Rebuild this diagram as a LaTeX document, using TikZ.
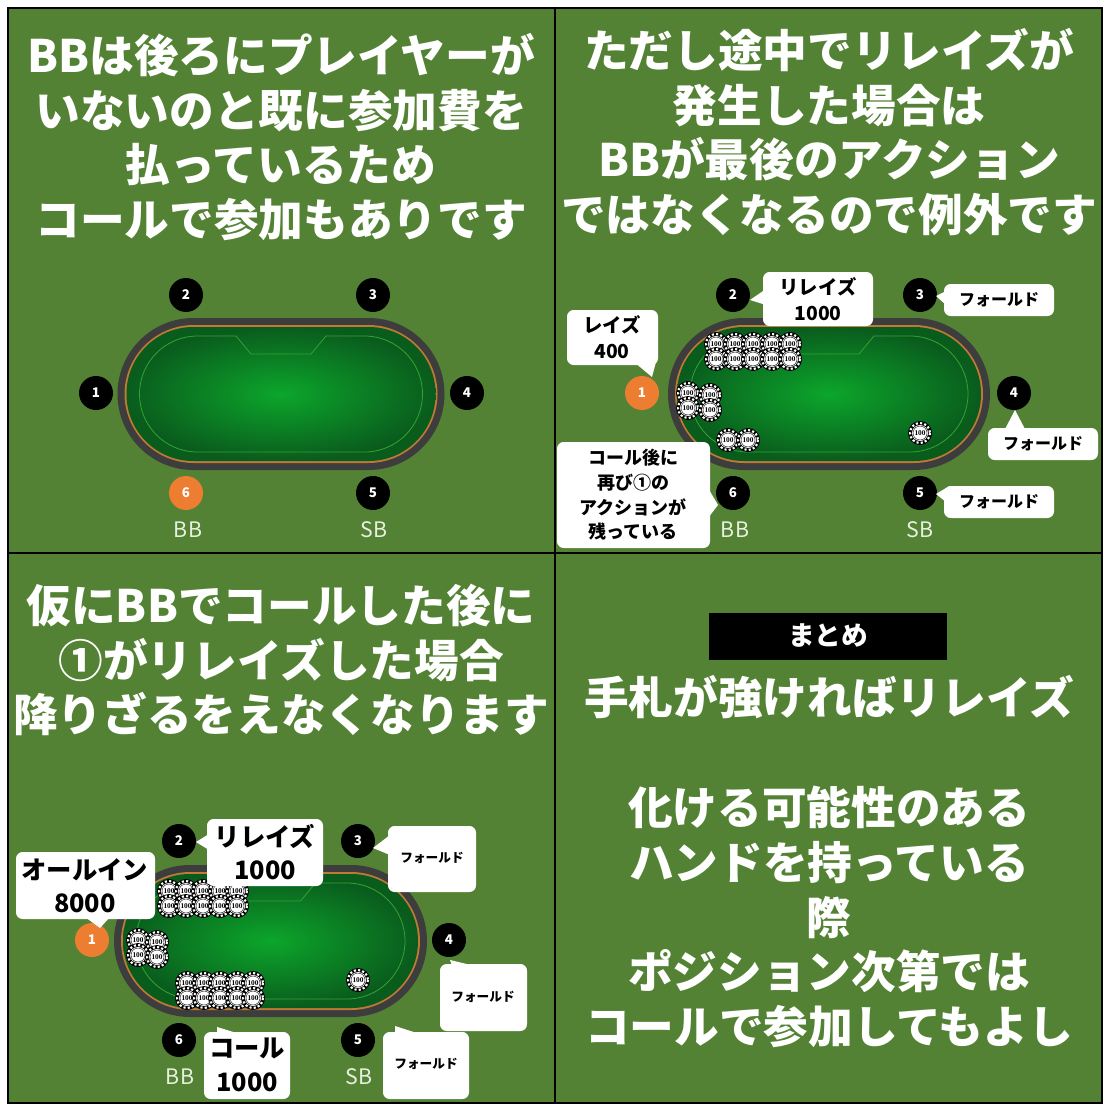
\documentclass[tikz,border=0pt]{standalone}
\usepackage{fontspec}
\setmainfont{Noto Sans CJK JP}
\newfontfamily\chipfont{Liberation Serif}
\definecolor{bg}{HTML}{548235}
\definecolor{rim}{HTML}{3D3D3D}
\definecolor{wood}{HTML}{C07A35}
\definecolor{feltin}{HTML}{0CA62B}
\definecolor{feltout}{HTML}{0A5C1D}
\definecolor{seatorange}{HTML}{ED7D31}
\definecolor{lbl}{HTML}{E8F0E0}
\newcommand\ptable[3]{%
\begin{scope}[shift={(#1,#2)}]
\fill[rim,rounded corners=57pt] (-#3,-76) rectangle (#3,76);
\fill[wood,rounded corners=52pt] (-#3+7,-69) rectangle (#3-7,69);
\shade[inner color=feltin,outer color=feltout,rounded corners=50pt] (-#3+9,-67) rectangle (#3-9,67);
\pgfmathsetmacro\tL{-#3+80}\pgfmathsetmacro\tR{#3-80}
\draw[green!55!black!80,line width=0.6pt] (\tL,-58) -- (-45,-58) -- (-30,-40) -- (30,-40) -- (45,-58) -- (\tR,-58)
  arc[start angle=-90,end angle=90,radius=58] -- (\tL,58) arc[start angle=90,end angle=270,radius=58] -- cycle;
\end{scope}}
\newcommand\chip[2]{%
\fill[black] (#1,#2) circle[radius=12];
\draw[white,line width=1.6pt,dash pattern=on 1.6pt off 1.6pt] (#1,#2) circle[radius=10];
\fill[white] (#1,#2) circle[radius=8];
\draw[black,line width=0.3pt] (#1,#2) circle[radius=7];
\node[font=\chipfont\bfseries\fontsize{5.5}{5.5}\selectfont,inner sep=0] at (#1,#2) {100};}
\tikzset{
 title/.style={text=white,font=\bfseries\fontsize{33.5}{41}\selectfont,align=center,inner sep=0},
 seatb/.style={circle,fill=black,text=white,minimum size=25.5pt,inner sep=0,font=\bfseries\fontsize{10}{10}\selectfont},
 seato/.style={seatb,fill=seatorange},
 poslbl/.style={text=lbl,font=\fontsize{16}{16}\selectfont,inner sep=0},
 bub/.style={fill=white,rounded corners=5pt},
 btxt/.style 2 args={align=center,inner sep=0,font=\bfseries\fontsize{#1}{#2}\selectfont},
}
\begin{document}
\begin{tikzpicture}[x=0.75pt,y=-0.75pt]
\useasboundingbox (0,0) rectangle (1106,1109);
\fill[white] (0,0) rectangle (1106,1109);
\fill[bg] (8,8) rectangle (1102,1103);
% ---------- panel 1 ----------
\node[title] (t1) at (281,137) {BBは後ろにプレイヤーが\\いないのと既に参加費を\\払っているため\\コールで参加もありです};
\ptable{281}{394}{163.5}
\node[seatb] (a2) at (186,295) {2};
\node[seatb] (a3) at (373,295) {3};
\node[seatb] (a1) at (96,393) {1};
\node[seatb] (a4) at (467,393) {4};
\node[seato] (a6) at (186,493) {6};
\node[seatb] (a5) at (373,493) {5};
\node[poslbl] (abb) at (188,530) {BB};
\node[poslbl] (asb) at (374,530) {SB};
% ---------- panel 2 ----------
\node[title] (t2) at (829,132) {ただし途中でリレイズが\\発生した場合は\\BBが最後のアクション\\ではなくなるので例外です};
\ptable{829}{394}{161}
\foreach \x in {716,735,753,772,790} {\chip{\x}{344}}
\foreach \x in {716,735,753,772,790} {\chip{\x}{359}}
\chip{688}{393}\chip{710}{395}\chip{688}{408}\chip{710}{410}
\chip{728}{440}\chip{748}{440}
\chip{920}{433}
\node[seatb] (b2) at (733,295) {2};
\node[seatb] (b3) at (920,295) {3};
\node[seato] (b1) at (642,393) {1};
\node[seatb] (b4) at (1014,393) {4};
\node[seatb] (b6) at (733,493) {6};
\node[seatb] (b5) at (920,493) {5};
\node[poslbl] (bbb) at (735,530) {BB};
\node[poslbl] (bsb) at (920,530) {SB};
% callouts
\fill[white] (766,289) -- (766,305) -- (750,300) -- cycle;
\fill[bub] (763,272) rectangle (873,326);
\node[btxt={14.5}{19.5}] (c1) at (818,299) {リレイズ\\1000};
\fill[white] (946,291) -- (946,305) -- (936,296) -- cycle;
\fill[bub] (944,284) rectangle (1054,316);
\node[btxt={12}{16}] (c2) at (999,300) {フォールド};
\fill[white] (634,362) -- (656,362) -- (652,377) -- cycle;
\fill[bub] (567,310) rectangle (658,365);
\node[btxt={14.5}{19.5}] (c3) at (612,337) {レイズ\\400};
\fill[white] (1004,431) -- (1026,431) -- (1015,410) -- cycle;
\fill[bub] (988,428) rectangle (1098,460);
\node[btxt={12}{16}] (c4) at (1043,444) {フォールド};
\fill[white] (946,488) -- (946,502) -- (936,494) -- cycle;
\fill[bub] (944,486) rectangle (1054,518);
\node[btxt={12}{16}] (c5) at (999,502) {フォールド};
\fill[white] (708,488) -- (708,518) -- (718,505) -- cycle;
\fill[bub] (557,442) rectangle (710,548);
\node[btxt={13.5}{18.5}] (c6) at (633,495) {コール後に\\再び①の\\アクションが\\残っている};
% ---------- panel 3 ----------
\node[title] (t3) at (281,660) {仮にBBでコールした後に\\①がリレイズした場合\\降りざるをえなくなります};
\ptable{270.5}{941}{156.5}
\foreach \x in {169,186,203,220,237} {\chip{\x}{891}}
\foreach \x in {169,186,203,220,237} {\chip{\x}{906}}
\chip{138}{940}\chip{157}{942}\chip{138}{955}\chip{157}{957}
\foreach \x in {187,204,220,237,253} {\chip{\x}{983}}
\foreach \x in {187,204,220,237,253} {\chip{\x}{998}}
\chip{358}{980}
\node[seatb] (d2) at (179,841) {2};
\node[seatb] (d3) at (358,841) {3};
\node[seato] (d1) at (92,940) {1};
\node[seatb] (d4) at (449,940) {4};
\node[seatb] (d6) at (179,1040) {6};
\node[seatb] (d5) at (358,1040) {5};
\node[poslbl] (dbb) at (180,1077) {BB};
\node[poslbl] (dsb) at (359,1077) {SB};
\fill[white] (209,834) -- (209,850) -- (196,842) -- cycle;
\fill[bub] (207,819) rectangle (323,886);
\node[btxt={19}{25}] (e1) at (265,852) {リレイズ\\1000};
\fill[white] (390,835) -- (390,855) -- (373,848) -- cycle;
\fill[bub] (388,826) rectangle (476,892);
\node[btxt={9.5}{13}] (e2) at (432,858) {フォールド};
\fill[white] (85,917) -- (110,917) -- (100,928) -- cycle;
\fill[bub] (16,852) rectangle (155,919);
\node[btxt={19}{25}] (e3) at (85,886) {オールイン\\8000};
\fill[white] (452,966) -- (475,966) -- (450,960) -- cycle;
\fill[bub] (440,964) rectangle (527,1031);
\node[btxt={9.5}{13}] (e4) at (483,997) {フォールド};
\fill[white] (395,1034) -- (420,1034) -- (395,1026) -- cycle;
\fill[bub] (383,1032) rectangle (469,1099);
\node[btxt={9.5}{13}] (e5) at (426,1064) {フォールド};
\fill[white] (217,1034) -- (240,1034) -- (217,1027) -- cycle;
\fill[bub] (204,1032) rectangle (290,1099);
\node[btxt={19}{25}] (e6) at (247,1065) {コール\\1000};
% ---------- panel 4 ----------
\fill[black] (709,613) rectangle (947,660);
\node[text=white,font=\bfseries\fontsize{20}{20}\selectfont] (m0) at (828,636) {まとめ};
\node[title] (m1) at (829,697) {手札が強ければリレイズ};
\node[title] (m2) at (829,917) {化ける可能性のある\\ハンドを持っている\\際\\ポジション次第では\\コールで参加してもよし};
% ---------- grid ----------
\draw[black,line width=1.5pt] (8,8) rectangle (1102,1103);
\draw[black,line width=1.5pt] (555,8) -- (555,1103);
\draw[black,line width=1.5pt] (8,553) -- (1102,553);
\end{tikzpicture}
\end{document}
